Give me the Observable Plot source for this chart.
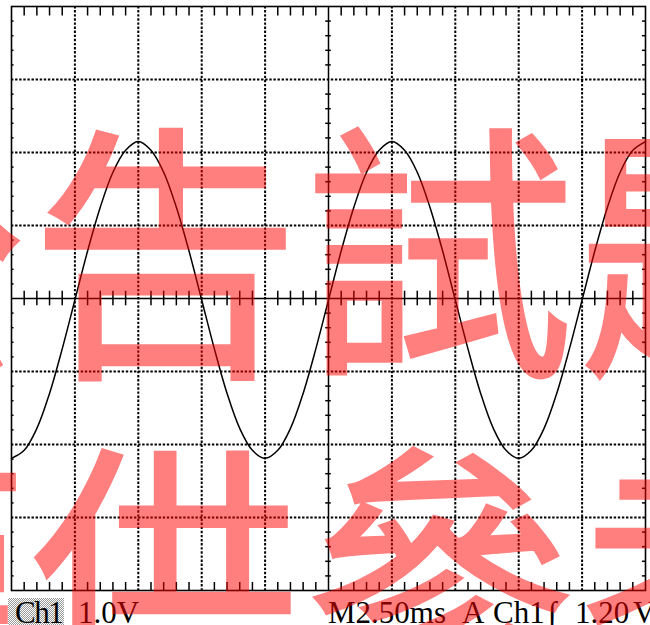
<!DOCTYPE html>
<html>
<head>
<meta charset="utf-8">
<script src="https://cdn.jsdelivr.net/npm/d3@7"></script>
<script src="https://cdn.jsdelivr.net/npm/@observablehq/plot@0.6"></script>
<style>
  html, body { margin: 0; padding: 0; background: #fff; overflow: hidden; }
  #wrap { position: relative; width: 650px; height: 625px; }
  #chart svg { display: block; }
  .cap { position: absolute; top: 597px; font-family: "Liberation Serif", "DejaVu Serif", serif; font-size: 31px; line-height: 31px; color: #000; white-space: pre; }
  #chbox { position: absolute; left: 8px; top: 598px; width: 56px; height: 27px;
    background: repeating-conic-gradient(#9a9a9a 0 25%, #fff 0 50%) 0 0 / 2px 2px; }
  #wm { position: absolute; left: 0; top: 0; width: 650px; height: 625px; pointer-events: none; overflow: hidden; }
</style>
</head>
<body>
<div id="wrap">
  <div id="chart"></div>
  <div id="chbox"></div>
  <div id="caps"></div>
  <svg id="wm" width="650" height="625"></svg>
</div>
<script>
// ---- data ----
const timesMs = [0,0.5,1,1.5,2,2.5,3,3.5,4,4.5,5,5.5,6,6.5,7,7.5,8,8.5,9,9.5,10,
  10.5,11,11.5,12,12.5,13,13.5,14,14.5,15,15.5,16,16.5,17,17.5,18,18.5,19,19.5,20,
  20.5,21,21.5,22,22.5,23,23.5,24,24.5,25];
const volts = [-2.19,-2.08,-1.78,-1.30,-0.69,-0.02,0.65,1.25,1.73,2.03,2.15,2.03,1.73,1.25,0.65,-0.02,-0.69,-1.30,-1.78,-2.08,-2.19,
  -2.08,-1.78,-1.30,-0.69,-0.02,0.65,1.25,1.73,2.03,2.15,2.03,1.73,1.25,0.65,-0.02,-0.69,-1.30,-1.78,-2.08,-2.19,
  -2.08,-1.78,-1.30,-0.69,-0.02,0.65,1.25,1.73,2.03,2.15];
const xMajor = [2.5,5,7.5,10,15,17.5,20,22.5];
const yMajor = [-3,-2,-1,1,2,3];
const xMinor = [0.5,1,1.5,2,3,3.5,4,4.5,5.5,6,6.5,7,8,8.5,9,9.5,10.5,11,11.5,12,
  13,13.5,14,14.5,15.5,16,16.5,17,18,18.5,19,19.5,20.5,21,21.5,22,23,23.5,24,24.5];
const yMinor = [-3.8,-3.6,-3.4,-3.2,-2.8,-2.6,-2.4,-2.2,-1.8,-1.6,-1.4,-1.2,-0.8,-0.6,-0.4,-0.2,
  0.2,0.4,0.6,0.8,1.2,1.4,1.6,1.8,2.2,2.4,2.6,2.8,3.2,3.4,3.6,3.8];
const xCenter = [12.5];
const yCenter = [0];
const captionTexts = ["Ch1", "1.0V", "M2.50ms", "A", "Ch1", "\u222B", "1.20", "V"];
const captionX = [15, 78, 328, 462, 493, 548, 575, 633];
const watermarkRows = ["公告試題", "僅供參考"];

// ---- chart ----
const wave = timesMs.map((t, i) => ({t, v: volts[i]}));
const dash = "2.4,1.7";
const chart = Plot.plot({
  width: 650,
  height: 596,
  marginTop: 6,
  marginBottom: 6,
  marginLeft: 11,
  marginRight: 5,
  x: {domain: [0, 25], axis: null},
  y: {domain: [-4, 4], axis: null},
  marks: [
    Plot.ruleX(xMajor, {stroke: "black", strokeWidth: 2, strokeDasharray: dash}),
    Plot.ruleY(yMajor, {stroke: "black", strokeWidth: 2, strokeDasharray: dash}),
    // border ticks
    Plot.ruleX(xMinor, {y1: 4, y2: 3.87, stroke: "black", strokeWidth: 1.5}),
    Plot.ruleX(xMinor, {y1: -4, y2: -3.89, stroke: "black", strokeWidth: 1.5}),
    Plot.ruleY(yMinor, {x1: 0, x2: 0.1, stroke: "black", strokeWidth: 1.5}),
    Plot.ruleY(yMinor, {x1: 25, x2: 24.88, stroke: "black", strokeWidth: 1.5}),
    // center axes
    Plot.ruleY(yCenter, {stroke: "black", strokeWidth: 1.5}),
    Plot.ruleX(xCenter, {stroke: "black", strokeWidth: 1.5}),
    Plot.ruleX(xMinor, {y1: -0.1, y2: 0.1, stroke: "black", strokeWidth: 1.5}),
    Plot.ruleY(yMinor, {x1: 12.39, x2: 12.61, stroke: "black", strokeWidth: 1.5}),
    // waveform
    Plot.line(wave, {x: "t", y: "v", curve: "catmull-rom", stroke: "black", strokeWidth: 1.5}),
    Plot.frame({stroke: "black", strokeWidth: 1.6})
  ]
});
document.getElementById("chart").appendChild(chart);

const caps = document.getElementById("caps");
captionTexts.forEach((s, i) => {
  const d = document.createElement("div");
  d.className = "cap";
  d.style.left = captionX[i] + "px";
  if (i === 0) d.style.letterSpacing = "-1.5px";
  d.textContent = s;
  caps.appendChild(d);
});

// ---- watermark ----
const wm = d3.select("#wm").append("g").attr("opacity", 0.5);
const rowY = [356, 676];
watermarkRows.forEach((s, i) => {
  wm.append("text")
    .attr("x", -244)
    .attr("y", rowY[i])
    .attr("font-family", "'Noto Sans CJK TC', 'Noto Sans CJK JP', sans-serif")
    .attr("font-weight", 400)
    .attr("font-size", 270)
    .attr("letter-spacing", 4)
    .attr("fill", "rgb(255,0,0)")
    .attr("stroke", "rgb(255,0,0)")
    .attr("stroke-width", 3)
    .attr("stroke-linejoin", "miter")
    .text(s);
});
</script>
</body>
</html>
